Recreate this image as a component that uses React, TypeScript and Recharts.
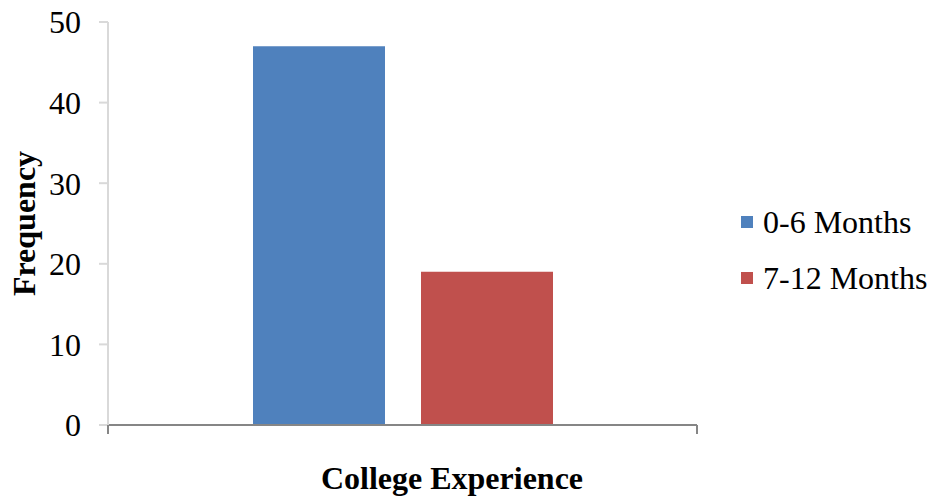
import { Bar, BarChart, Label, Legend, XAxis, YAxis } from "recharts";

const categories = ["College Experience"];
const seriesNames = ["0-6 Months", "7-12 Months"];
const seriesColors = ["#4f81bd", "#c0504d"];
const earlyValues = [47];
const lateValues = [19];
const yTicks = [0, 10, 20, 30, 40, 50];

const data = categories.map((name, i) => ({
  name,
  early: earlyValues[i],
  late: lateValues[i],
}));

const FONT = "'Liberation Serif', 'Times New Roman', serif";

const LegendBox = () => (
  <div style={{ fontFamily: FONT, fontSize: 32, color: "#000" }}>
    {seriesNames.map((name, i) => (
      <div
        key={name}
        style={{ display: "flex", alignItems: "center", height: 56 }}
      >
        <span
          style={{
            display: "inline-block",
            width: 12,
            height: 12,
            background: seriesColors[i],
            marginRight: 10,
          }}
        />
        <span style={{ whiteSpace: "nowrap" }}>{name}</span>
      </div>
    ))}
  </div>
);

const labelStyle = {
  fontFamily: FONT,
  fontSize: 32,
  fontWeight: "bold" as const,
  fill: "#000",
};

// the category band spans the whole axis, so its edges get the tick marks
const EdgeTicks = (props: any) => {
  const half = (Number(props.width) || 589) / 2;
  const top = Number(props.y);
  return (
    <g>
      {[props.x - half, props.x + half].map((x: number) => (
        <line
          key={x}
          x1={x}
          x2={x}
          y1={top}
          y2={top + 9}
          stroke="#868686"
          strokeWidth={2}
        />
      ))}
    </g>
  );
};

export default function App() {
  return (
    <div style={{ position: "absolute", left: 0, top: 0, background: "#fff" }}>
      <BarChart
        width={932}
        height={499}
        data={data}
        margin={{ top: 22, right: 44, bottom: 0, left: 0 }}
        barGap={36}
      >
        <XAxis
          dataKey="name"
          tickLine={false}
          tickSize={0}
          tickMargin={0}
          tick={EdgeTicks}
          axisLine={{ stroke: "#868686", strokeWidth: 2 }}
          height={74}
        >
          <Label
            content={({ viewBox }: any) => (
              <text
                x={452}
                y={viewBox.y + viewBox.height - 10}
                textAnchor="middle"
                style={labelStyle}
              >
                College Experience
              </text>
            )}
          />
        </XAxis>
        <YAxis
          domain={[0, 50]}
          ticks={yTicks}
          width={108}
          tickSize={9}
          tickMargin={18}
          axisLine={{ stroke: "#d9d9d9", strokeWidth: 2 }}
          tickLine={{ stroke: "#d9d9d9", strokeWidth: 2 }}
          tick={{ fontFamily: FONT, fontSize: 32, fill: "#000" }}
          label={({ viewBox }: any) => (
            <text
              x={35}
              y={viewBox.y + viewBox.height / 2}
              transform={`rotate(-90, 35, ${viewBox.y + viewBox.height / 2})`}
              textAnchor="middle"
              style={labelStyle}
            >
              Frequency
            </text>
          )}
        />
        <Legend
          layout="vertical"
          align="right"
          verticalAlign="top"
          content={<LegendBox />}
          wrapperStyle={{ left: 741, top: 194, width: 191 }}
        />
        <Bar
          dataKey="early"
          name={seriesNames[0]}
          fill={seriesColors[0]}
          barSize={132}
          isAnimationActive={false}
        />
        <Bar
          dataKey="late"
          name={seriesNames[1]}
          fill={seriesColors[1]}
          barSize={132}
          isAnimationActive={false}
        />
      </BarChart>
    </div>
  );
}
